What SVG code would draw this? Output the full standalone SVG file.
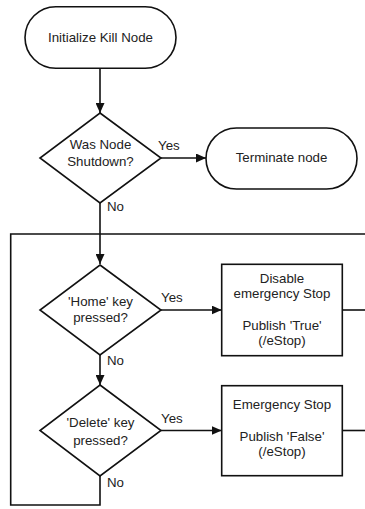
<svg xmlns="http://www.w3.org/2000/svg" width="365" height="509" viewBox="0 0 365 509">
  <style>
    .shape { fill: #fff; stroke: #111; stroke-width: 1.6; }
    .wire { fill: none; stroke: #111; stroke-width: 1.6; }
    text { font-family: "Liberation Sans", Arial, sans-serif; font-size: 13.3px; fill: #222; }
    .c { text-anchor: middle; }
  </style>
  <defs>
    <marker id="arrow" markerUnits="userSpaceOnUse" markerWidth="10" markerHeight="9" refX="10" refY="4.5" orient="auto">
      <path d="M0,0 L10,4.5 L0,9 z" fill="#111"/>
    </marker>
  </defs>
  <rect width="365" height="509" fill="#fff"/>

  <!-- connectors -->
  <g id="connectors">
    <path class="wire" d="M100,68.3 V113" marker-end="url(#arrow)"/>
    <path class="wire" d="M161,158 H206" marker-end="url(#arrow)"/>
    <path class="wire" d="M100,203 V264" marker-end="url(#arrow)"/>
    <path class="wire" d="M161,310 H221.7" marker-end="url(#arrow)"/>
    <path class="wire" d="M100,355 V385" marker-end="url(#arrow)"/>
    <path class="wire" d="M161,430.5 H221.7" marker-end="url(#arrow)"/>
    <!-- loop back from the last decision to the top of the key checks -->
    <path class="wire" d="M100,476 V505 H10.7 V234 H365"/>
    <path class="wire" d="M342.3,310 H365"/>
    <path class="wire" d="M342.3,430.5 H365"/>
    <text x="158" y="149.5">Yes</text>
    <text x="107" y="211">No</text>
    <text x="161" y="301.5">Yes</text>
    <text x="107" y="365">No</text>
    <text x="161" y="423">Yes</text>
    <text x="107" y="487">No</text>
  </g>

  <g id="init">
    <rect class="shape" x="25" y="6.7" width="151" height="61.6" rx="30.8"/>
    <text class="c" x="100.5" y="42">Initialize Kill Node</text>
  </g>

  <g id="shutdown-check">
    <polygon class="shape" points="100,113 161,158 100,203 40,158"/>
    <text class="c" x="100.5" y="149.3">Was Node</text>
    <text class="c" x="100.5" y="165.5">Shutdown?</text>
  </g>

  <g id="terminate">
    <rect class="shape" x="206" y="128" width="151" height="61" rx="30.5"/>
    <text class="c" x="281.5" y="161.5">Terminate node</text>
  </g>

  <g id="home-check">
    <polygon class="shape" points="100,265 161,310 100,355 40,310"/>
    <text class="c" x="100.5" y="305.5">'Home' key</text>
    <text class="c" x="100.5" y="322">pressed?</text>
  </g>

  <g id="disable-stop">
    <rect class="shape" x="221.7" y="264.3" width="120.6" height="91.4"/>
    <text class="c" x="282" y="283.3">Disable</text>
    <text class="c" x="282" y="298.3">emergency Stop</text>
    <text class="c" x="282" y="330">Publish 'True'</text>
    <text class="c" x="282" y="344.5">(/eStop)</text>
  </g>

  <g id="delete-check">
    <polygon class="shape" points="100,385 161,430.5 100,476 40,430.5"/>
    <text class="c" x="100.5" y="426.7">'Delete' key</text>
    <text class="c" x="100.5" y="444.5">pressed?</text>
  </g>

  <g id="emergency-stop">
    <rect class="shape" x="221.7" y="385.7" width="120.6" height="90"/>
    <text class="c" x="282" y="409.3">Emergency Stop</text>
    <text class="c" x="282" y="440.7">Publish 'False'</text>
    <text class="c" x="282" y="456">(/eStop)</text>
  </g>
</svg>
